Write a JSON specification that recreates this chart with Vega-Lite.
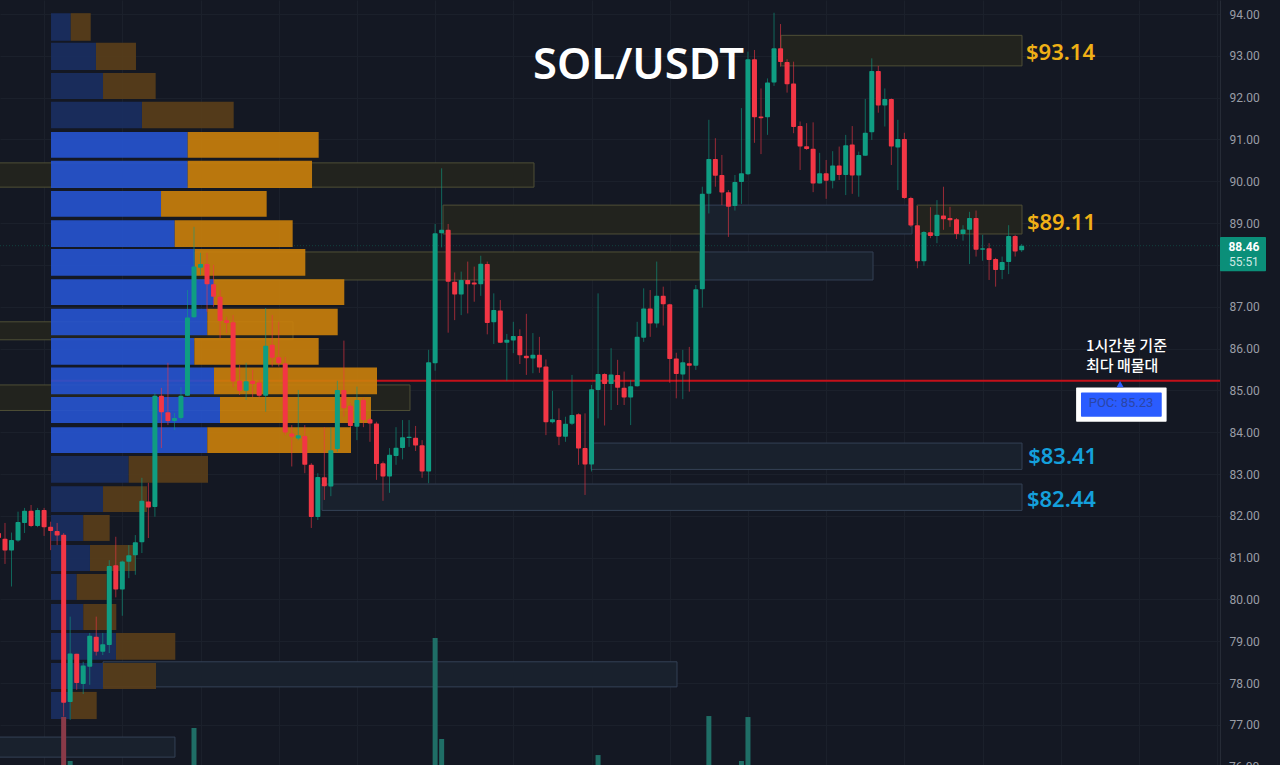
{
  "$schema": "https://vega.github.io/schema/vega-lite/v6.json",
  "width": 1220,
  "height": 765,
  "autosize": {"type": "none"},
  "padding": {"left": 0, "top": 0, "right": 60, "bottom": 0},
  "background": "#141823",
  "config": {"view": {"stroke": null}},
  "datasets": {
    "candles": [
      {"i":-1,"open":81.59,"high":81.64,"low":81.42,"close":81.47,"dir":"down"},
      {"i":0,"open":81.45,"high":81.83,"low":80.85,"close":81.17,"dir":"down"},
      {"i":1,"open":81.17,"high":81.60,"low":80.31,"close":81.42,"dir":"up"},
      {"i":2,"open":81.41,"high":82.10,"low":81.38,"close":81.85,"dir":"up"},
      {"i":3,"open":81.83,"high":82.19,"low":81.59,"close":82.12,"dir":"up"},
      {"i":4,"open":82.12,"high":82.26,"low":81.73,"close":81.76,"dir":"down"},
      {"i":5,"open":81.76,"high":82.19,"low":81.73,"close":82.14,"dir":"up"},
      {"i":6,"open":82.14,"high":82.19,"low":81.52,"close":81.73,"dir":"down"},
      {"i":7,"open":81.74,"high":81.86,"low":81.18,"close":81.64,"dir":"down"},
      {"i":8,"open":81.64,"high":81.83,"low":81.30,"close":81.53,"dir":"down"},
      {"i":9,"open":81.55,"high":81.59,"low":77.20,"close":77.53,"dir":"down"},
      {"i":10,"open":77.55,"high":79.59,"low":77.12,"close":78.71,"dir":"up"},
      {"i":11,"open":78.70,"high":78.70,"low":77.84,"close":78.00,"dir":"down"},
      {"i":12,"open":77.98,"high":78.51,"low":77.74,"close":78.42,"dir":"up"},
      {"i":13,"open":78.39,"high":79.20,"low":77.96,"close":79.13,"dir":"up"},
      {"i":14,"open":79.11,"high":79.59,"low":78.66,"close":78.75,"dir":"down"},
      {"i":15,"open":78.75,"high":79.20,"low":78.67,"close":78.93,"dir":"up"},
      {"i":16,"open":78.91,"high":80.94,"low":78.72,"close":80.80,"dir":"up"},
      {"i":17,"open":80.82,"high":81.50,"low":80.05,"close":80.24,"dir":"down"},
      {"i":18,"open":80.24,"high":80.93,"low":79.61,"close":80.91,"dir":"up"},
      {"i":19,"open":80.90,"high":81.30,"low":80.51,"close":81.06,"dir":"up"},
      {"i":20,"open":81.06,"high":81.54,"low":80.59,"close":81.37,"dir":"up"},
      {"i":21,"open":81.37,"high":82.91,"low":81.11,"close":82.36,"dir":"up"},
      {"i":22,"open":82.34,"high":82.79,"low":81.47,"close":82.20,"dir":"down"},
      {"i":23,"open":82.21,"high":84.94,"low":81.98,"close":84.87,"dir":"up"},
      {"i":24,"open":84.87,"high":85.06,"low":83.62,"close":84.48,"dir":"down"},
      {"i":25,"open":84.48,"high":85.66,"low":84.17,"close":84.27,"dir":"down"},
      {"i":26,"open":84.27,"high":84.46,"low":84.05,"close":84.34,"dir":"up"},
      {"i":27,"open":84.34,"high":85.08,"low":84.29,"close":84.87,"dir":"up"},
      {"i":28,"open":84.87,"high":87.40,"low":84.87,"close":86.74,"dir":"up"},
      {"i":29,"open":86.75,"high":88.91,"low":86.73,"close":87.96,"dir":"up"},
      {"i":30,"open":87.93,"high":88.29,"low":87.76,"close":88.02,"dir":"up"},
      {"i":31,"open":88.02,"high":88.29,"low":86.88,"close":87.54,"dir":"down"},
      {"i":32,"open":87.54,"high":88.00,"low":87.00,"close":87.24,"dir":"down"},
      {"i":33,"open":87.24,"high":87.40,"low":86.25,"close":86.66,"dir":"down"},
      {"i":34,"open":86.68,"high":86.76,"low":86.37,"close":86.61,"dir":"down"},
      {"i":35,"open":86.63,"high":86.80,"low":85.08,"close":85.21,"dir":"down"},
      {"i":36,"open":85.23,"high":85.61,"low":84.89,"close":84.99,"dir":"down"},
      {"i":37,"open":84.99,"high":85.66,"low":84.77,"close":85.22,"dir":"up"},
      {"i":38,"open":85.23,"high":85.49,"low":84.84,"close":85.15,"dir":"down"},
      {"i":39,"open":85.19,"high":85.25,"low":84.82,"close":84.87,"dir":"down"},
      {"i":40,"open":84.87,"high":86.97,"low":84.49,"close":86.07,"dir":"up"},
      {"i":41,"open":86.09,"high":86.80,"low":85.57,"close":85.78,"dir":"down"},
      {"i":42,"open":85.79,"high":86.64,"low":85.57,"close":85.65,"dir":"down"},
      {"i":43,"open":85.65,"high":85.80,"low":83.93,"close":83.99,"dir":"down"},
      {"i":44,"open":83.97,"high":84.17,"low":83.18,"close":83.89,"dir":"down"},
      {"i":45,"open":83.85,"high":85.01,"low":83.81,"close":83.93,"dir":"up"},
      {"i":46,"open":83.91,"high":84.17,"low":83.02,"close":83.22,"dir":"down"},
      {"i":47,"open":83.22,"high":83.26,"low":81.71,"close":81.97,"dir":"down"},
      {"i":48,"open":81.97,"high":83.02,"low":81.90,"close":82.93,"dir":"up"},
      {"i":49,"open":82.92,"high":84.12,"low":82.38,"close":82.71,"dir":"down"},
      {"i":50,"open":82.70,"high":84.12,"low":82.47,"close":83.57,"dir":"up"},
      {"i":51,"open":83.60,"high":85.23,"low":83.53,"close":85.01,"dir":"up"},
      {"i":52,"open":85.01,"high":86.19,"low":84.37,"close":84.57,"dir":"down"},
      {"i":53,"open":84.63,"high":84.70,"low":84.10,"close":84.15,"dir":"down"},
      {"i":54,"open":84.13,"high":85.09,"low":83.81,"close":84.77,"dir":"up"},
      {"i":55,"open":84.77,"high":84.82,"low":84.12,"close":84.29,"dir":"down"},
      {"i":56,"open":84.31,"high":84.34,"low":83.77,"close":84.21,"dir":"down"},
      {"i":57,"open":84.21,"high":84.25,"low":82.86,"close":83.24,"dir":"down"},
      {"i":58,"open":83.26,"high":83.30,"low":82.36,"close":82.94,"dir":"down"},
      {"i":59,"open":82.94,"high":83.62,"low":82.55,"close":83.46,"dir":"up"},
      {"i":60,"open":83.43,"high":84.12,"low":83.22,"close":83.63,"dir":"up"},
      {"i":61,"open":83.62,"high":84.29,"low":83.35,"close":83.88,"dir":"up"},
      {"i":62,"open":83.86,"high":84.29,"low":83.65,"close":83.89,"dir":"up"},
      {"i":63,"open":83.87,"high":84.15,"low":83.55,"close":83.68,"dir":"down"},
      {"i":64,"open":83.69,"high":83.81,"low":82.91,"close":83.06,"dir":"down"},
      {"i":65,"open":83.06,"high":85.97,"low":82.78,"close":85.67,"dir":"up"},
      {"i":66,"open":85.65,"high":88.98,"low":85.47,"close":88.76,"dir":"up"},
      {"i":67,"open":88.76,"high":90.31,"low":88.42,"close":88.84,"dir":"up"},
      {"i":68,"open":88.84,"high":88.98,"low":86.38,"close":87.60,"dir":"down"},
      {"i":69,"open":87.60,"high":87.82,"low":86.68,"close":87.29,"dir":"down"},
      {"i":70,"open":87.29,"high":87.84,"low":86.80,"close":87.64,"dir":"up"},
      {"i":71,"open":87.64,"high":88.08,"low":86.84,"close":87.54,"dir":"down"},
      {"i":72,"open":87.58,"high":87.96,"low":87.12,"close":87.53,"dir":"down"},
      {"i":73,"open":87.54,"high":88.22,"low":87.26,"close":88.03,"dir":"up"},
      {"i":74,"open":88.02,"high":88.08,"low":86.34,"close":86.61,"dir":"down"},
      {"i":75,"open":86.63,"high":87.32,"low":86.11,"close":86.92,"dir":"up"},
      {"i":76,"open":86.91,"high":87.16,"low":86.13,"close":86.14,"dir":"down"},
      {"i":77,"open":86.14,"high":86.35,"low":85.23,"close":86.21,"dir":"up"},
      {"i":78,"open":86.19,"high":86.64,"low":85.89,"close":86.30,"dir":"up"},
      {"i":79,"open":86.30,"high":86.46,"low":85.63,"close":85.84,"dir":"down"},
      {"i":80,"open":85.83,"high":86.83,"low":85.37,"close":85.77,"dir":"down"},
      {"i":81,"open":85.76,"high":86.37,"low":85.41,"close":85.85,"dir":"up"},
      {"i":82,"open":85.85,"high":86.28,"low":85.42,"close":85.55,"dir":"down"},
      {"i":83,"open":85.57,"high":85.74,"low":83.93,"close":84.24,"dir":"down"},
      {"i":84,"open":84.24,"high":84.99,"low":84.21,"close":84.31,"dir":"up"},
      {"i":85,"open":84.29,"high":84.57,"low":83.69,"close":83.89,"dir":"down"},
      {"i":86,"open":83.89,"high":84.37,"low":83.77,"close":84.20,"dir":"up"},
      {"i":87,"open":84.20,"high":85.37,"low":84.17,"close":84.41,"dir":"up"},
      {"i":88,"open":84.43,"high":84.45,"low":83.22,"close":83.61,"dir":"down"},
      {"i":89,"open":83.62,"high":84.45,"low":82.50,"close":83.23,"dir":"down"},
      {"i":90,"open":83.23,"high":85.13,"low":83.06,"close":85.03,"dir":"up"},
      {"i":91,"open":85.01,"high":87.32,"low":84.33,"close":85.39,"dir":"up"},
      {"i":92,"open":85.39,"high":85.41,"low":84.16,"close":85.15,"dir":"down"},
      {"i":93,"open":85.15,"high":86.01,"low":84.53,"close":85.38,"dir":"up"},
      {"i":94,"open":85.37,"high":85.73,"low":84.65,"close":85.06,"dir":"down"},
      {"i":95,"open":85.06,"high":85.45,"low":84.65,"close":84.83,"dir":"down"},
      {"i":96,"open":84.83,"high":85.25,"low":84.17,"close":85.10,"dir":"up"},
      {"i":97,"open":85.10,"high":86.64,"low":85.09,"close":86.28,"dir":"up"},
      {"i":98,"open":86.26,"high":87.44,"low":86.16,"close":86.96,"dir":"up"},
      {"i":99,"open":86.96,"high":87.40,"low":86.28,"close":86.60,"dir":"down"},
      {"i":100,"open":86.60,"high":88.08,"low":86.50,"close":87.26,"dir":"up"},
      {"i":101,"open":87.26,"high":87.48,"low":86.55,"close":87.06,"dir":"down"},
      {"i":102,"open":87.06,"high":87.07,"low":85.18,"close":85.75,"dir":"down"},
      {"i":103,"open":85.76,"high":85.90,"low":84.81,"close":85.39,"dir":"down"},
      {"i":104,"open":85.38,"high":85.97,"low":84.79,"close":85.67,"dir":"up"},
      {"i":105,"open":85.65,"high":86.04,"low":84.97,"close":85.59,"dir":"down"},
      {"i":106,"open":85.59,"high":87.52,"low":85.49,"close":87.42,"dir":"up"},
      {"i":107,"open":87.42,"high":89.87,"low":86.98,"close":89.70,"dir":"up"},
      {"i":108,"open":89.70,"high":91.47,"low":89.23,"close":90.53,"dir":"up"},
      {"i":109,"open":90.53,"high":91.03,"low":89.87,"close":90.13,"dir":"down"},
      {"i":110,"open":90.15,"high":90.63,"low":89.43,"close":89.73,"dir":"down"},
      {"i":111,"open":89.74,"high":89.79,"low":88.67,"close":89.39,"dir":"down"},
      {"i":112,"open":89.41,"high":90.15,"low":89.30,"close":89.98,"dir":"up"},
      {"i":113,"open":89.98,"high":91.75,"low":89.46,"close":90.19,"dir":"up"},
      {"i":114,"open":90.17,"high":93.10,"low":90.15,"close":92.92,"dir":"up"},
      {"i":115,"open":92.92,"high":93.14,"low":90.92,"close":91.53,"dir":"down"},
      {"i":116,"open":91.55,"high":92.22,"low":90.65,"close":91.51,"dir":"down"},
      {"i":117,"open":91.53,"high":92.46,"low":91.11,"close":92.36,"dir":"up"},
      {"i":118,"open":92.36,"high":94.03,"low":92.28,"close":93.18,"dir":"up"},
      {"i":119,"open":93.18,"high":93.76,"low":92.74,"close":92.85,"dir":"down"},
      {"i":120,"open":92.85,"high":92.92,"low":92.12,"close":92.32,"dir":"down"},
      {"i":121,"open":92.34,"high":92.86,"low":91.15,"close":91.30,"dir":"down"},
      {"i":122,"open":91.32,"high":91.43,"low":90.27,"close":90.83,"dir":"down"},
      {"i":123,"open":90.84,"high":91.39,"low":90.75,"close":90.77,"dir":"down"},
      {"i":124,"open":90.78,"high":91.41,"low":89.74,"close":89.95,"dir":"down"},
      {"i":125,"open":89.95,"high":90.68,"low":89.95,"close":90.19,"dir":"up"},
      {"i":126,"open":90.19,"high":90.51,"low":89.58,"close":90.01,"dir":"down"},
      {"i":127,"open":90.01,"high":90.72,"low":89.83,"close":90.38,"dir":"up"},
      {"i":128,"open":90.38,"high":90.83,"low":90.03,"close":90.15,"dir":"down"},
      {"i":129,"open":90.15,"high":91.11,"low":89.67,"close":90.86,"dir":"up"},
      {"i":130,"open":90.88,"high":91.32,"low":89.70,"close":90.14,"dir":"down"},
      {"i":131,"open":90.14,"high":90.71,"low":89.63,"close":90.63,"dir":"up"},
      {"i":132,"open":90.61,"high":91.97,"low":90.61,"close":91.16,"dir":"up"},
      {"i":133,"open":91.17,"high":92.94,"low":90.99,"close":92.64,"dir":"up"},
      {"i":134,"open":92.64,"high":92.76,"low":91.64,"close":91.81,"dir":"down"},
      {"i":135,"open":91.81,"high":92.22,"low":91.31,"close":91.97,"dir":"up"},
      {"i":136,"open":91.97,"high":91.98,"low":90.39,"close":90.83,"dir":"down"},
      {"i":137,"open":90.81,"high":91.47,"low":89.79,"close":91.01,"dir":"up"},
      {"i":138,"open":91.01,"high":91.16,"low":89.58,"close":89.60,"dir":"down"},
      {"i":139,"open":89.60,"high":89.63,"low":88.91,"close":88.94,"dir":"down"},
      {"i":140,"open":88.95,"high":89.41,"low":87.92,"close":88.09,"dir":"down"},
      {"i":141,"open":88.09,"high":88.81,"low":87.98,"close":88.79,"dir":"up"},
      {"i":142,"open":88.78,"high":89.38,"low":88.64,"close":88.69,"dir":"down"},
      {"i":143,"open":88.69,"high":89.55,"low":88.52,"close":89.20,"dir":"up"},
      {"i":144,"open":89.18,"high":89.87,"low":88.84,"close":89.09,"dir":"down"},
      {"i":145,"open":89.12,"high":89.39,"low":88.91,"close":89.07,"dir":"down"},
      {"i":146,"open":89.09,"high":89.12,"low":88.62,"close":88.74,"dir":"down"},
      {"i":147,"open":88.74,"high":88.95,"low":88.58,"close":88.85,"dir":"up"},
      {"i":148,"open":88.84,"high":89.27,"low":88.02,"close":89.12,"dir":"up"},
      {"i":149,"open":89.12,"high":89.30,"low":88.20,"close":88.36,"dir":"down"},
      {"i":150,"open":88.36,"high":88.72,"low":88.10,"close":88.40,"dir":"up"},
      {"i":151,"open":88.40,"high":88.52,"low":87.64,"close":88.12,"dir":"down"},
      {"i":152,"open":88.14,"high":88.17,"low":87.48,"close":87.88,"dir":"down"},
      {"i":153,"open":87.88,"high":88.20,"low":87.66,"close":88.07,"dir":"up"},
      {"i":154,"open":88.07,"high":88.95,"low":87.78,"close":88.69,"dir":"up"},
      {"i":155,"open":88.69,"high":88.72,"low":88.20,"close":88.32,"dir":"down"},
      {"i":156,"open":88.35,"high":88.50,"low":88.31,"close":88.46,"dir":"up"}
    ],
    "profile": [
      {"priceHigh":94.02,"priceLow":93.36,"start":7.06,"buyEnd":10.08,"sellEnd":13.15,"valueArea":false},
      {"priceHigh":93.31,"priceLow":92.66,"start":7.06,"buyEnd":13.96,"sellEnd":20.10,"valueArea":false},
      {"priceHigh":92.59,"priceLow":91.97,"start":7.06,"buyEnd":15.04,"sellEnd":23.12,"valueArea":false},
      {"priceHigh":91.90,"priceLow":91.27,"start":7.06,"buyEnd":21.02,"sellEnd":35.09,"valueArea":false},
      {"priceHigh":91.18,"priceLow":90.56,"start":7.06,"buyEnd":28.03,"sellEnd":48.13,"valueArea":true},
      {"priceHigh":90.49,"priceLow":89.84,"start":7.06,"buyEnd":28.03,"sellEnd":47.11,"valueArea":true},
      {"priceHigh":89.77,"priceLow":89.15,"start":7.06,"buyEnd":23.94,"sellEnd":40.15,"valueArea":true},
      {"priceHigh":89.07,"priceLow":88.43,"start":7.06,"buyEnd":26.04,"sellEnd":44.14,"valueArea":true},
      {"priceHigh":88.38,"priceLow":87.74,"start":7.06,"buyEnd":29.11,"sellEnd":46.08,"valueArea":true},
      {"priceHigh":87.66,"priceLow":87.04,"start":7.06,"buyEnd":32.07,"sellEnd":52.06,"valueArea":true},
      {"priceHigh":86.95,"priceLow":86.32,"start":7.06,"buyEnd":31.04,"sellEnd":51.05,"valueArea":true},
      {"priceHigh":86.25,"priceLow":85.61,"start":7.06,"buyEnd":29.05,"sellEnd":48.13,"valueArea":true},
      {"priceHigh":85.55,"priceLow":84.91,"start":7.06,"buyEnd":32.07,"sellEnd":57.08,"valueArea":true},
      {"priceHigh":84.84,"priceLow":84.22,"start":7.06,"buyEnd":32.99,"sellEnd":56.16,"valueArea":true},
      {"priceHigh":84.12,"priceLow":83.50,"start":7.06,"buyEnd":31.04,"sellEnd":53.09,"valueArea":true},
      {"priceHigh":83.43,"priceLow":82.79,"start":7.06,"buyEnd":18.98,"sellEnd":31.15,"valueArea":false},
      {"priceHigh":82.71,"priceLow":82.09,"start":7.06,"buyEnd":15.04,"sellEnd":21.79,"valueArea":false},
      {"priceHigh":82.02,"priceLow":81.40,"start":7.06,"buyEnd":12.01,"sellEnd":16.06,"valueArea":false},
      {"priceHigh":81.30,"priceLow":80.68,"start":7.06,"buyEnd":13.04,"sellEnd":20.05,"valueArea":false},
      {"priceHigh":80.61,"priceLow":79.99,"start":7.06,"buyEnd":11.00,"sellEnd":15.60,"valueArea":false},
      {"priceHigh":79.89,"priceLow":79.27,"start":7.06,"buyEnd":12.01,"sellEnd":17.08,"valueArea":false},
      {"priceHigh":79.20,"priceLow":78.56,"start":7.06,"buyEnd":17.03,"sellEnd":26.13,"valueArea":false},
      {"priceHigh":78.48,"priceLow":77.86,"start":7.06,"buyEnd":15.04,"sellEnd":23.17,"valueArea":false},
      {"priceHigh":77.79,"priceLow":77.14,"start":7.06,"buyEnd":10.08,"sellEnd":14.07,"valueArea":false}
    ],
    "zones": [
      {"from":119.07,"to":156.05,"top":93.49,"bottom":92.76,"kind":"supply"},
      {"from":67.21,"to":107.41,"top":89.43,"bottom":88.74,"kind":"supply"},
      {"from":107.41,"to":139.17,"top":89.43,"bottom":88.74,"kind":"demand"},
      {"from":139.94,"to":156.05,"top":89.43,"bottom":88.74,"kind":"supply"},
      {"from":29.15,"to":106.64,"top":88.31,"bottom":87.64,"kind":"supply"},
      {"from":106.64,"to":133.19,"top":88.31,"bottom":87.64,"kind":"demand"},
      {"from":-2,"to":81.17,"top":90.44,"bottom":89.86,"kind":"supply"},
      {"from":-2,"to":44.19,"top":86.64,"bottom":86.21,"kind":"supply"},
      {"from":-2,"to":62.14,"top":85.13,"bottom":84.52,"kind":"supply"},
      {"from":89.92,"to":156.05,"top":83.74,"bottom":83.11,"kind":"demand"},
      {"from":48.64,"to":156.05,"top":82.76,"bottom":82.13,"kind":"demand"},
      {"from":15.04,"to":103.11,"top":78.51,"bottom":77.91,"kind":"demand"},
      {"from":-2,"to":26.08,"top":76.71,"bottom":76.23,"kind":"demand"}
    ],
    "volume": [
      {"i":9,"vol":6.27,"dir":"down"},
      {"i":10,"vol":0.52,"dir":"up"},
      {"i":29,"vol":4.84,"dir":"up"},
      {"i":66,"vol":16.6,"dir":"up"},
      {"i":67,"vol":3.4,"dir":"up"},
      {"i":91,"vol":1.3,"dir":"up"},
      {"i":108,"vol":6.4,"dir":"up"},
      {"i":113,"vol":0.52,"dir":"up"},
      {"i":114,"vol":6.27,"dir":"up"}
    ]
  },
  "layer": [
    {
      "layer": [
        {
          "data": {"values": [{"price": 88.46, "from": -0.767, "to": 186.43}]},
          "mark": {"type": "rule", "color": "#0f6b5c", "strokeWidth": 1, "strokeDash": [1, 2], "opacity": 0.5},
          "encoding": {
            "x": {
              "field": "from",
              "type": "quantitative",
              "scale": {"domain": [-0.767, 186.43], "nice": false, "zero": false, "padding": 0},
              "axis": {
                "title": null,
                "labels": false,
                "ticks": false,
                "domain": false,
                "grid": true,
                "gridColor": "#1b202b",
                "values": [6, 18, 30, 42, 54, 66, 78, 90, 102, 114, 126, 138, 150, 162, 174, 186]
              }
            },
            "x2": {"field": "to"},
            "y": {
              "field": "price",
              "type": "quantitative",
              "scale": {"domain": [76.042, 94.335], "nice": false, "zero": false},
              "axis": {
                "orient": "right",
                "title": null,
                "format": ".2f",
                "values": [77, 78, 79, 80, 81, 82, 83, 84, 85, 86, 87, 88, 89, 90, 91, 92, 93, 94],
                "tickSize": 0,
                "labelPadding": 9,
                "labelFont": "Roboto",
                "labelFontSize": 12,
                "labelColor": "#9a9da6",
                "domainColor": "#262b36",
                "grid": true,
                "gridColor": "#1b202b"
              }
            }
          }
        },
        {
          "data": {"name": "zones"},
          "mark": {"type": "rect", "strokeWidth": 1},
          "encoding": {
            "x": {"field": "from", "type": "quantitative"},
            "x2": {"field": "to"},
            "y": {"field": "top", "type": "quantitative"},
            "y2": {"field": "bottom"},
            "fill": {"condition": {"test": "datum.kind === 'supply'", "value": "#22231e"}, "value": "#19212d"},
            "stroke": {"condition": {"test": "datum.kind === 'supply'", "value": "#4f4f36"}, "value": "#344155"}
          }
        },
        {
          "data": {"values": [{"price": 85.23, "from": 7.06, "to": 186.43}]},
          "mark": {"type": "rule", "color": "#c4101a", "strokeWidth": 2},
          "encoding": {
            "x": {"field": "from", "type": "quantitative"},
            "x2": {"field": "to"},
            "y": {"field": "price", "type": "quantitative"}
          }
        },
        {
          "data": {"name": "profile"},
          "mark": {"type": "rect", "opacity": 0.9},
          "encoding": {
            "x": {"field": "start", "type": "quantitative"},
            "x2": {"field": "buyEnd"},
            "y": {"field": "priceHigh", "type": "quantitative"},
            "y2": {"field": "priceLow"},
            "fill": {"condition": {"test": "datum.valueArea", "value": "#2654d2"}, "value": "#1a2f62"}
          }
        },
        {
          "data": {"name": "profile"},
          "mark": {"type": "rect", "opacity": 0.9},
          "encoding": {
            "x": {"field": "buyEnd", "type": "quantitative"},
            "x2": {"field": "sellEnd"},
            "y": {"field": "priceHigh", "type": "quantitative"},
            "y2": {"field": "priceLow"},
            "fill": {"condition": {"test": "datum.valueArea", "value": "#cb810b"}, "value": "#5a3e1a"}
          }
        },
        {
          "data": {"name": "candles"},
          "mark": {"type": "rule", "strokeWidth": 1, "opacity": 0.6},
          "encoding": {
            "x": {"field": "i", "type": "quantitative"},
            "y": {"field": "low", "type": "quantitative"},
            "y2": {"field": "high"},
            "color": {"condition": {"test": "datum.dir === 'up'", "value": "#0f9d82"}, "value": "#f23645"}
          }
        },
        {
          "data": {"name": "candles"},
          "mark": {"type": "bar", "size": 5, "cornerRadius": 1},
          "encoding": {
            "x": {"field": "i", "type": "quantitative"},
            "y": {"field": "open", "type": "quantitative"},
            "y2": {"field": "close"},
            "color": {"condition": {"test": "datum.dir === 'up'", "value": "#0f9d82"}, "value": "#f23645"}
          }
        },
        {
          "data": {"values": [
            {"from": 186.43, "to": 193.49, "top": 88.67, "bottom": 87.85, "box": "tag"},
            {"from": 164.35, "to": 178.24, "top": 85.07, "bottom": 84.25, "box": "frame"},
            {"from": 165.10, "to": 177.49, "top": 84.95, "bottom": 84.37, "box": "poc"}
          ]},
          "mark": {"type": "rect", "cornerRadius": 1},
          "encoding": {
            "x": {"field": "from", "type": "quantitative"},
            "x2": {"field": "to"},
            "y": {"field": "top", "type": "quantitative"},
            "y2": {"field": "bottom"},
            "fill": {"condition": [
              {"test": "datum.box === 'tag'", "value": "#0b8f79"},
              {"test": "datum.box === 'frame'", "value": "#ffffff"}
            ], "value": "#2a5cff"}
          }
        },
        {
          "data": {"values": [{"x": 171.1, "price": 85.15}]},
          "mark": {"type": "point", "shape": "triangle-up", "filled": true, "size": 50, "color": "#2a5cff", "opacity": 1},
          "encoding": {
            "x": {"field": "x", "type": "quantitative"},
            "y": {"field": "price", "type": "quantitative"}
          }
        },
        {
          "data": {"values": [{"x": 97.2, "price": 92.76, "label": "SOL/USDT"}]},
          "mark": {"type": "text", "font": "Noto Sans", "fontSize": 43.5, "fontWeight": 600, "color": "#ffffff", "align": "center", "baseline": "middle"},
          "encoding": {
            "x": {"field": "x", "type": "quantitative"},
            "y": {"field": "price", "type": "quantitative"},
            "text": {"field": "label"}
          }
        },
        {
          "data": {"values": [
            {"x": 156.66, "price": 93.07, "label": "$93.14", "side": "supply"},
            {"x": 156.8, "price": 89.00, "label": "$89.11", "side": "supply"},
            {"x": 157.0, "price": 83.41, "label": "$83.41", "side": "demand"},
            {"x": 156.8, "price": 82.38, "label": "$82.44", "side": "demand"}
          ]},
          "mark": {"type": "text", "font": "Noto Sans", "fontSize": 22, "fontWeight": 600, "align": "left", "baseline": "middle"},
          "encoding": {
            "x": {"field": "x", "type": "quantitative"},
            "y": {"field": "price", "type": "quantitative"},
            "text": {"field": "label"},
            "color": {"condition": {"test": "datum.side === 'supply'", "value": "#f0b016"}, "value": "#14a0dc"}
          }
        },
        {
          "data": {"values": [
            {"x": 165.87, "price": 86.06, "label": "1시간봉 기준"},
            {"x": 165.87, "price": 85.58, "label": "최다 매물대"}
          ]},
          "mark": {"type": "text", "font": "Noto Sans CJK KR", "fontSize": 15, "fontWeight": 500, "color": "#ffffff", "align": "left", "baseline": "middle"},
          "encoding": {
            "x": {"field": "x", "type": "quantitative"},
            "y": {"field": "price", "type": "quantitative"},
            "text": {"field": "label"}
          }
        },
        {
          "data": {"values": [{"x": 171.24, "price": 84.70, "label": "POC: 85.23"}]},
          "mark": {"type": "text", "font": "Roboto", "fontSize": 13, "color": "#2a45a6", "align": "center", "baseline": "middle"},
          "encoding": {
            "x": {"field": "x", "type": "quantitative"},
            "y": {"field": "price", "type": "quantitative"},
            "text": {"field": "label"}
          }
        },
        {
          "data": {"values": [{"x": 190.1, "price": 88.44, "label": "88.46"}]},
          "mark": {"type": "text", "font": "Roboto", "fontSize": 12, "fontWeight": 700, "color": "#ffffff", "align": "center", "baseline": "middle"},
          "encoding": {
            "x": {"field": "x", "type": "quantitative"},
            "y": {"field": "price", "type": "quantitative"},
            "text": {"field": "label"}
          }
        },
        {
          "data": {"values": [{"x": 190.1, "price": 88.08, "label": "55:51"}]},
          "mark": {"type": "text", "font": "Roboto", "fontSize": 12, "color": "#cfe9e4", "align": "center", "baseline": "middle"},
          "encoding": {
            "x": {"field": "x", "type": "quantitative"},
            "y": {"field": "price", "type": "quantitative"},
            "text": {"field": "label"}
          }
        },
        {
          "data": {"values": [{"x": 187.81, "price": 76.0, "label": "76.00"}]},
          "mark": {"type": "text", "font": "Roboto", "fontSize": 12, "color": "#9a9da6", "align": "left", "baseline": "middle"},
          "encoding": {
            "x": {"field": "x", "type": "quantitative"},
            "y": {"field": "price", "type": "quantitative"},
            "text": {"field": "label"}
          }
        }
      ]
    },
    {
      "data": {"name": "volume"},
      "mark": {"type": "bar", "size": 5},
      "encoding": {
        "x": {"field": "i", "type": "quantitative"},
        "y": {"field": "vol", "type": "quantitative", "scale": {"domain": [0, 100], "nice": false}, "axis": null},
        "color": {"condition": {"test": "datum.dir === 'up'", "value": "#1f6e66"}, "value": "#8a3a48"}
      }
    }
  ],
  "resolve": {"scale": {"y": "independent"}}
}
